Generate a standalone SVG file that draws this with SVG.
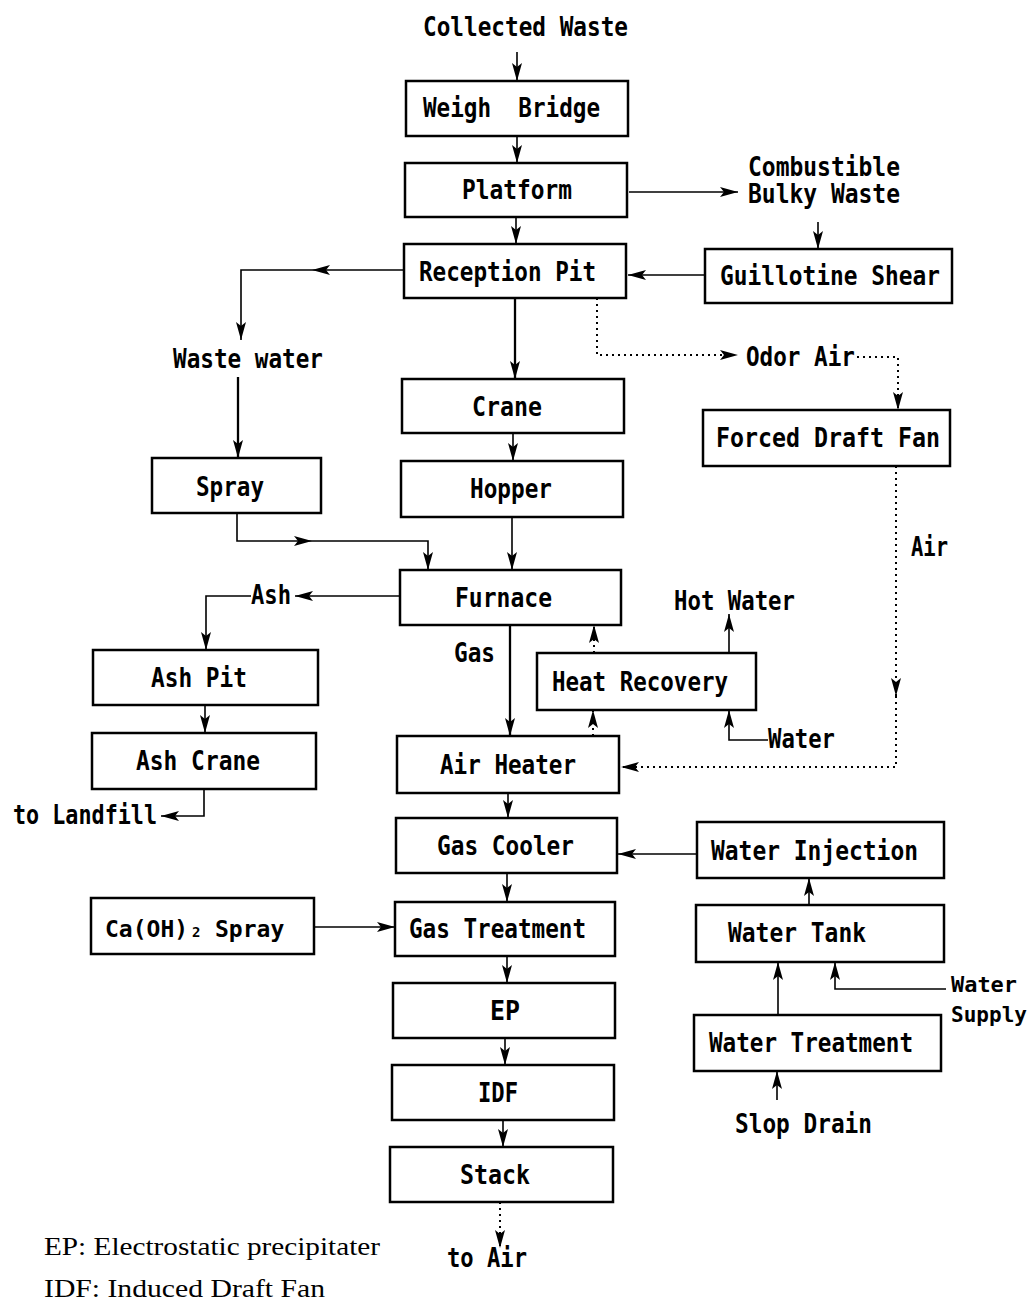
<svg xmlns="http://www.w3.org/2000/svg" width="1035" height="1303" viewBox="0 0 1035 1303">
<style>
.box{fill:#fff;stroke:#000;stroke-width:2.5}
.t{font-family:"DejaVu Sans Mono","Liberation Mono",monospace;font-size:26px;font-weight:bold;fill:#000;white-space:pre}
.s{font-family:"Liberation Serif","Times New Roman",serif;font-size:26px;fill:#000}
.c{fill:none;stroke:#000;stroke-width:1.6}
.k{fill:none;stroke:#000;stroke-width:2.3}
.d{fill:none;stroke:#000;stroke-width:2;stroke-dasharray:2 4}
</style>
<defs>
<marker id="ah" viewBox="0 0 18 10" refX="18" refY="5" markerWidth="18" markerHeight="10" markerUnits="userSpaceOnUse" orient="auto">
<path d="M0,0 L18,5 L0,10 L4,5 z" fill="#000"/>
</marker>
</defs>
<rect width="1035" height="1303" fill="#fff"/>

<g id="connectors">
<path class="c" d="M517,52 V81" marker-end="url(#ah)"/>
<path class="c" d="M517,136 V163" marker-end="url(#ah)"/>
<path class="c" d="M516,217 V244" marker-end="url(#ah)"/>
<path class="c" d="M629,192 H738" marker-end="url(#ah)"/>
<path class="c" d="M818,222 V249" marker-end="url(#ah)"/>
<path class="c" d="M705,275 H628" marker-end="url(#ah)"/>
<path class="c" d="M404,270 H312" marker-end="url(#ah)"/>
<path class="c" d="M312,270 H241 V340" marker-end="url(#ah)"/>
<path class="k" d="M238,377 V458" marker-end="url(#ah)"/>
<path class="k" d="M515,298 V379" marker-end="url(#ah)"/>
<path class="d" d="M597,298 V355 H738" marker-end="url(#ah)"/>
<path class="d" d="M857,357 H898 V410" marker-end="url(#ah)"/>
<path class="d" d="M896,466 V696" marker-end="url(#ah)"/>
<path class="d" d="M896,696 V767 H621" marker-end="url(#ah)"/>
<path class="c" d="M513,433 V461" marker-end="url(#ah)"/>
<path class="c" d="M512,517 V570" marker-end="url(#ah)"/>
<path class="c" d="M237,513 V541 H312" marker-end="url(#ah)"/>
<path class="c" d="M312,541 H428 V570" marker-end="url(#ah)"/>
<path class="c" d="M400,596 H295" marker-end="url(#ah)"/>
<path class="c" d="M251,596 H206 V650" marker-end="url(#ah)"/>
<path class="c" d="M205,705 V733" marker-end="url(#ah)"/>
<path class="c" d="M204,789 V816 H161" marker-end="url(#ah)"/>
<path class="k" d="M510,625 V736" marker-end="url(#ah)"/>
<path class="d" d="M594,653 V625" marker-end="url(#ah)"/>
<path class="d" d="M593,736 V710" marker-end="url(#ah)"/>
<path class="c" d="M729,653 V614" marker-end="url(#ah)"/>
<path class="c" d="M768,740 H729 V710" marker-end="url(#ah)"/>
<path class="c" d="M697,854 H618" marker-end="url(#ah)"/>
<path class="c" d="M809,905 V878" marker-end="url(#ah)"/>
<path class="c" d="M778,1015 V962" marker-end="url(#ah)"/>
<path class="c" d="M946,989 H835 V962" marker-end="url(#ah)"/>
<path class="c" d="M777,1100 V1071" marker-end="url(#ah)"/>
<path class="c" d="M508,793 V818" marker-end="url(#ah)"/>
<path class="c" d="M507,873 V902" marker-end="url(#ah)"/>
<path class="c" d="M314,927 H395" marker-end="url(#ah)"/>
<path class="c" d="M507,956 V983" marker-end="url(#ah)"/>
<path class="c" d="M505,1038 V1065" marker-end="url(#ah)"/>
<path class="c" d="M503,1120 V1147" marker-end="url(#ah)"/>
<path class="d" d="M500,1202 V1248" marker-end="url(#ah)"/>
</g>

<g id="labels">
<text class="t" x="423" y="36" textLength="205" lengthAdjust="spacingAndGlyphs">Collected Waste</text>
<text class="t" x="748" y="176" textLength="152" lengthAdjust="spacingAndGlyphs">Combustible</text>
<text class="t" x="748" y="203" textLength="152" lengthAdjust="spacingAndGlyphs">Bulky Waste</text>
<text class="t" x="173" y="368" textLength="150" lengthAdjust="spacingAndGlyphs">Waste water</text>
<text class="t" x="746" y="366" textLength="109" lengthAdjust="spacingAndGlyphs">Odor Air</text>
<text class="t" x="911" y="556" textLength="37" lengthAdjust="spacingAndGlyphs">Air</text>
<text class="t" x="251" y="604" textLength="40" lengthAdjust="spacingAndGlyphs">Ash</text>
<text class="t" x="674" y="610" textLength="121" lengthAdjust="spacingAndGlyphs">Hot Water</text>
<text class="t" x="454" y="662" textLength="41" lengthAdjust="spacingAndGlyphs">Gas</text>
<text class="t" x="768" y="748" textLength="67" lengthAdjust="spacingAndGlyphs">Water</text>
<text class="t" x="13" y="824" textLength="144" lengthAdjust="spacingAndGlyphs">to Landfill</text>
<text class="t" x="951" y="992" style="font-size:22px" textLength="66" lengthAdjust="spacingAndGlyphs">Water</text>
<text class="t" x="951" y="1022" style="font-size:22px" textLength="76" lengthAdjust="spacingAndGlyphs">Supply</text>
<text class="t" x="735" y="1133" textLength="137" lengthAdjust="spacingAndGlyphs">Slop Drain</text>
<text class="t" x="447" y="1267" textLength="80" lengthAdjust="spacingAndGlyphs">to Air</text>
<text class="s" x="44" y="1255" textLength="336" lengthAdjust="spacingAndGlyphs">EP: Electrostatic precipitater</text>
<text class="s" x="44" y="1297" textLength="281" lengthAdjust="spacingAndGlyphs">IDF: Induced Draft Fan</text>
</g>

<g id="weigh-bridge"><rect class="box" x="406" y="81" width="222" height="55"/><text class="t" x="423" y="117" textLength="177" lengthAdjust="spacingAndGlyphs">Weigh  Bridge</text></g>
<g id="platform"><rect class="box" x="405" y="163" width="222" height="54"/><text class="t" x="462" y="199" textLength="110" lengthAdjust="spacingAndGlyphs">Platform</text></g>
<g id="reception-pit"><rect class="box" x="404" y="244" width="222" height="54"/><text class="t" x="419" y="281" textLength="177" lengthAdjust="spacingAndGlyphs">Reception Pit</text></g>
<g id="guillotine-shear"><rect class="box" x="705" y="249" width="247" height="54"/><text class="t" x="720" y="285" textLength="220" lengthAdjust="spacingAndGlyphs">Guillotine Shear</text></g>
<g id="crane"><rect class="box" x="402" y="379" width="222" height="54"/><text class="t" x="472" y="416" textLength="70" lengthAdjust="spacingAndGlyphs">Crane</text></g>
<g id="forced-draft-fan"><rect class="box" x="703" y="410" width="247" height="56"/><text class="t" x="716" y="447" textLength="224" lengthAdjust="spacingAndGlyphs">Forced Draft Fan</text></g>
<g id="spray"><rect class="box" x="152" y="458" width="169" height="55"/><text class="t" x="196" y="496" textLength="68" lengthAdjust="spacingAndGlyphs">Spray</text></g>
<g id="hopper"><rect class="box" x="401" y="461" width="222" height="56"/><text class="t" x="470" y="498" textLength="82" lengthAdjust="spacingAndGlyphs">Hopper</text></g>
<g id="furnace"><rect class="box" x="400" y="570" width="221" height="55"/><text class="t" x="455" y="607" textLength="97" lengthAdjust="spacingAndGlyphs">Furnace</text></g>
<g id="ash-pit"><rect class="box" x="93" y="650" width="225" height="55"/><text class="t" x="151" y="687" textLength="96" lengthAdjust="spacingAndGlyphs">Ash Pit</text></g>
<g id="heat-recovery"><rect class="box" x="537" y="653" width="219" height="57"/><text class="t" x="552" y="691" textLength="176" lengthAdjust="spacingAndGlyphs">Heat Recovery</text></g>
<g id="ash-crane"><rect class="box" x="92" y="733" width="224" height="56"/><text class="t" x="136" y="770" textLength="124" lengthAdjust="spacingAndGlyphs">Ash Crane</text></g>
<g id="air-heater"><rect class="box" x="397" y="736" width="222" height="57"/><text class="t" x="440" y="774" textLength="136" lengthAdjust="spacingAndGlyphs">Air Heater</text></g>
<g id="gas-cooler"><rect class="box" x="396" y="818" width="221" height="55"/><text class="t" x="437" y="855" textLength="137" lengthAdjust="spacingAndGlyphs">Gas Cooler</text></g>
<g id="water-injection"><rect class="box" x="697" y="822" width="247" height="56"/><text class="t" x="711" y="860" textLength="207" lengthAdjust="spacingAndGlyphs">Water Injection</text></g>
<g id="caoh2-spray"><rect class="box" x="91" y="898" width="223" height="56"/><text class="t" x="105" y="937" style="font-size:23px">Ca(OH)<tspan x="192" style="font-size:14px">2</tspan><tspan x="215">Spray</tspan></text></g>
<g id="gas-treatment"><rect class="box" x="395" y="902" width="220" height="54"/><text class="t" x="409" y="938" textLength="177" lengthAdjust="spacingAndGlyphs">Gas Treatment</text></g>
<g id="water-tank"><rect class="box" x="696" y="905" width="248" height="57"/><text class="t" x="728" y="942" textLength="138" lengthAdjust="spacingAndGlyphs">Water Tank</text></g>
<g id="ep"><rect class="box" x="393" y="983" width="222" height="55"/><text class="t" x="490" y="1020" textLength="30" lengthAdjust="spacingAndGlyphs">EP</text></g>
<g id="water-treatment"><rect class="box" x="694" y="1015" width="247" height="56"/><text class="t" x="709" y="1052" textLength="204" lengthAdjust="spacingAndGlyphs">Water Treatment</text></g>
<g id="idf"><rect class="box" x="392" y="1065" width="222" height="55"/><text class="t" x="478" y="1102" textLength="40" lengthAdjust="spacingAndGlyphs">IDF</text></g>
<g id="stack"><rect class="box" x="390" y="1147" width="223" height="55"/><text class="t" x="460" y="1184" textLength="70" lengthAdjust="spacingAndGlyphs">Stack</text></g>
</svg>
